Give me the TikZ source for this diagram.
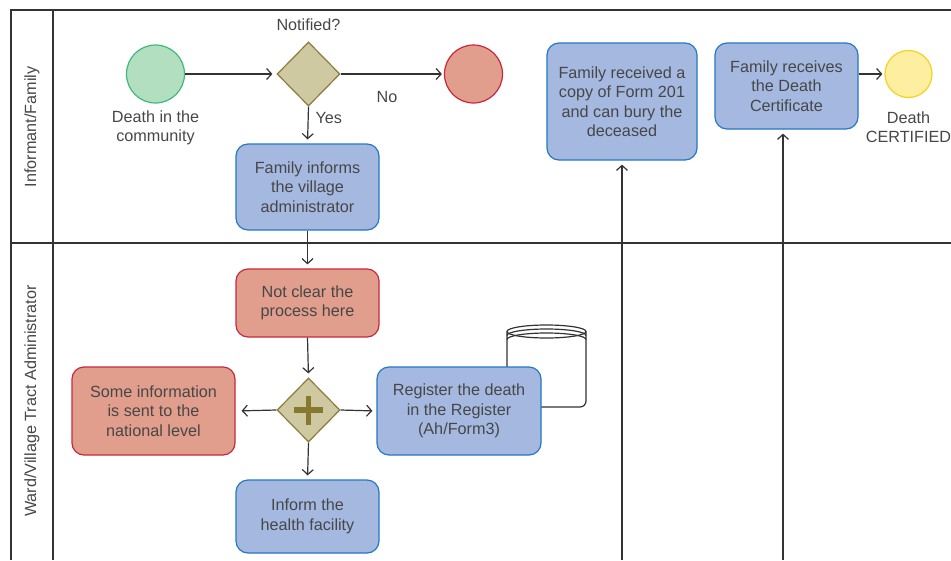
\documentclass[tikz,border=0pt]{standalone}
\usepackage{fontspec}
\setmainfont{Liberation Sans}
\usetikzlibrary{shapes.geometric,arrows.meta}
\definecolor{txt}{HTML}{474747}
\definecolor{ln}{HTML}{333333}
\definecolor{bluef}{HTML}{A4B8E0}
\definecolor{blued}{HTML}{2478C4}
\definecolor{redf}{HTML}{E19E8D}
\definecolor{redd}{HTML}{C8283C}
\definecolor{greenf}{HTML}{B3DFC1}
\definecolor{greend}{HTML}{3DBA7A}
\definecolor{yellf}{HTML}{FDEEA0}
\definecolor{yelld}{HTML}{F5D21E}
\definecolor{gatef}{HTML}{CFC9A1}
\definecolor{gated}{HTML}{8B7A3B}
\definecolor{plusc}{HTML}{877830}
\begin{document}
\begin{tikzpicture}[x=1pt,y=-1pt,
  every node/.style={font=\fontsize{16.2}{19.5}\selectfont, text=txt, align=center},
  task/.style={rectangle, rounded corners=12pt, line width=1.2pt, inner sep=0pt},
  bluebox/.style={task, draw=blued, fill=bluef},
  redbox/.style={task, draw=redd, fill=redf},
  gate/.style={diamond, draw=gated, fill=gatef, line width=1.2pt, minimum width=63pt, minimum height=64pt, inner sep=0pt},
  evt/.style={circle, line width=1.2pt, inner sep=0pt},
  arr/.style={draw=ln, line width=1.2pt, -{Straight Barb[length=5pt,width=11pt,line width=1.2pt]}, shorten >=4pt},
  frame/.style={draw=ln, line width=1.4pt}]
\useasboundingbox (0,0) rectangle (951,560);
% frame
\draw[frame] (11,560) -- (11,10) -- (951,10);
\draw[frame] (53,10) -- (53,560);
\draw[frame] (11,243) -- (951,243);
\node[rotate=90] (lane1) at (32,127) {Informant/Family};
\node[rotate=90] (lane2) at (32,401) {Ward/Village Tract Administrator};
% data store
\draw[line width=1.2pt, draw=ln, fill=white, rounded corners=6pt] (507,331.5) |- (586,407) -- (586,331.5);
\draw[line width=1.2pt, draw=ln, fill=white] (546.5,331.5) ellipse [x radius=39.5, y radius=6.5];
\draw[line width=1.2pt, draw=ln] (507,335.5) arc[start angle=180, end angle=360, x radius=39.5, y radius=6.5];
\draw[line width=1.2pt, draw=ln] (507,339.5) arc[start angle=180, end angle=360, x radius=39.5, y radius=6.5];
% events
\node[evt, draw=greend, fill=greenf, minimum size=58pt] (start) at (155.5,74) {};
\node (startlbl) at (155.5,128) {Death in the\\community};
\node[gate] (notif) at (308.5,74) {};
\node (notiflbl) at (308.5,25) {Notified?};
\node[evt, draw=redd, fill=redf, minimum size=58pt] (endno) at (473.5,74) {};
\node (nolbl) at (387,97) {No};
\node[anchor=west] (yeslbl) at (312,118) {Yes};
\node[bluebox, minimum width=143pt, minimum height=86pt] (inform) at (307.5,187) {Family informs\\the village\\administrator};
\node[redbox, minimum width=143pt, minimum height=68pt] (notclear) at (307.5,303) {Not clear the\\process here};
\node[gate] (par) at (308.5,410) {};
\draw[draw=plusc, line width=5.5pt] (par.center) ++(-14.5,0) -- ++(29,0);
\draw[draw=plusc, line width=5.5pt] (par.center) ++(0,-14.5) -- ++(0,29);
\node[redbox, minimum width=163pt, minimum height=88pt] (someinfo) at (153.5,411) {Some information\\is sent to the\\national level};
\node[bluebox, minimum width=164pt, minimum height=88pt] (register) at (459,411) {Register the death\\in the Register\\(Ah/Form3)};
\node[bluebox, minimum width=143pt, minimum height=73pt] (health) at (307.5,516.5) {Inform the\\health facility};
\node[bluebox, minimum width=150pt, minimum height=117pt] (received) at (622,101.5) {Family received a\\copy of Form 201\\and can bury the\\deceased};
\node[bluebox, minimum width=143pt, minimum height=86pt] (receives) at (786.5,86) {Family receives\\the Death\\Certificate};
\node[evt, draw=yelld, fill=yellf, minimum size=47pt] (cert) at (908.5,74) {};
\node (certlbl) at (908.5,127) {Death\\CERTIFIED};
\coordinate (b1) at (622,560);
\coordinate (b2) at (783,560);
% connectors
\draw[arr] (start) -- (notif.west);
\draw[arr, shorten >=2pt] (notif.east) -- (endno);
\draw[arr] (notif.south) -- (inform.north);
\draw[arr] (inform.south) -- (notclear.north);
\draw[arr] (notclear.south) -- (par.north);
\draw[arr, shorten >=6pt] (par.west) -- (someinfo.east);
\draw[arr] (par.east) -- (register.west);
\draw[arr] (par.south) -- (health.north);
\draw[arr] (b1) -- (received.south);
\draw[arr] (b2) -- (b2 |- receives.south);
\draw[arr, shorten >=2pt] (receives.east |- cert.west) -- (cert.west);
\end{tikzpicture}
\end{document}
